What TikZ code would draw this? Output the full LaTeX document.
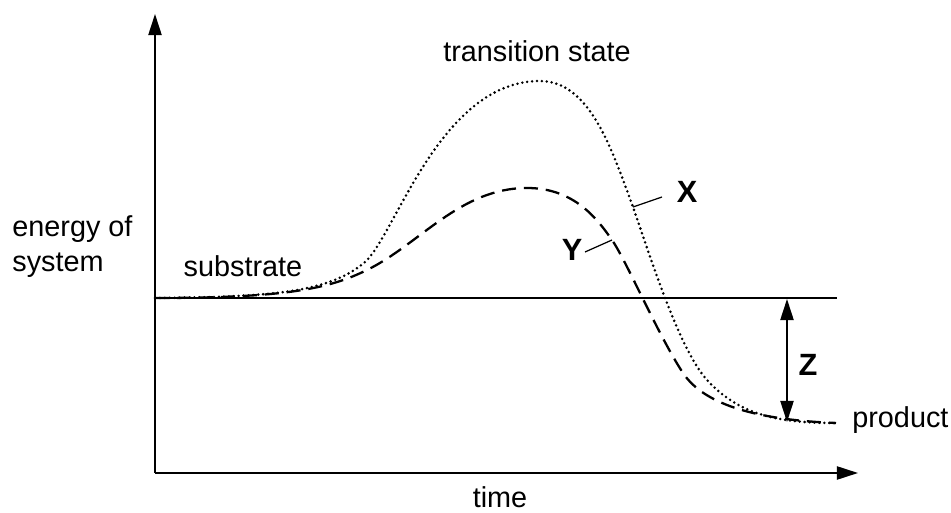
\documentclass[tikz,border=0pt]{standalone}
\usepackage{fontspec}
\setmainfont{Liberation Sans}
\usetikzlibrary{arrows.meta}

\tikzset{
  axis/.style={line width=1pt, -{Triangle[length=12pt, width=7.5pt]}},
  label/.style={font=\fontsize{16.4}{20}\selectfont, inner sep=0pt, anchor=base},
  curvelabel/.style={font=\fontsize{17.5}{20}\bfseries, inner sep=0pt},
  pathX/.style={line width=1.6pt, line cap=round, dash pattern=on 0pt off 2.8pt},
  pathY/.style={line width=1.3pt, dash pattern=on 8pt off 4.5pt},
}

\begin{document}
\begin{tikzpicture}[x=0.02cm, y=-0.02cm]
\useasboundingbox (0,0) rectangle (951,513);
% axes
\coordinate (origin) at (155,473);
\draw[axis] (origin) -- (155,14);
\draw[axis] (origin) -- (858,473);
% substrate level
\coordinate (base left) at (155,298);
\coordinate (base right) at (837,298);
\draw[line width=1pt] (base left) -- (base right);
% reaction paths
\coordinate (X top) at (540,81);
\coordinate (Y top) at (527,188);
\coordinate (end) at (836,423);
\draw[pathX] (base left) .. controls (275,297) and (330,292) .. (365,262)
  .. controls (395,236) and (440,81) .. (X top)
  .. controls (590,81) and (612,150) .. (633,207)
  .. controls (653,265) and (680,350) .. (707,380)
  .. controls (740,416) and (780,423) .. (end);
\draw[pathY] (base left) .. controls (290,298) and (330,288) .. (367,270)
  .. controls (420,244) and (460,188) .. (Y top)
  .. controls (575,188) and (598,220) .. (612,240)
  .. controls (626,260) and (658,335) .. (683,373)
  .. controls (705,406) and (760,420) .. (end);
% energy difference
\coordinate (prod) at (787,422);
\coordinate (subs) at (787,299);
\draw[line width=1pt, {Triangle[length=12pt, width=7.5pt]}-{Triangle[length=12pt, width=7.5pt]}] (subs) -- (prod);
\node[curvelabel] (Z) at (808,365) {Z};
% curve labels
\node[curvelabel] (X) at (687,192) {X};
\coordinate (X on) at (633,207);
\coordinate (X end) at (662,197);
\draw[line width=0.7pt] (X on) -- (X end);
\node[curvelabel] (Y) at (572,250) {Y};
\coordinate (Y on) at (612,240);
\coordinate (Y end) at (585,252);
\draw[line width=0.7pt] (Y on) -- (Y end);
% texts
\node[label] (ts) at (537,62) {transition state};
\node[label] (substrate) at (243,277) {substrate};
\node[label, anchor=base west] (product) at (852,428) {product};
\node[label] (time) at (500,507) {time};
\node[label, anchor=base west, align=left] (energy) at (12,272) {energy of\\system};
\end{tikzpicture}
\end{document}
